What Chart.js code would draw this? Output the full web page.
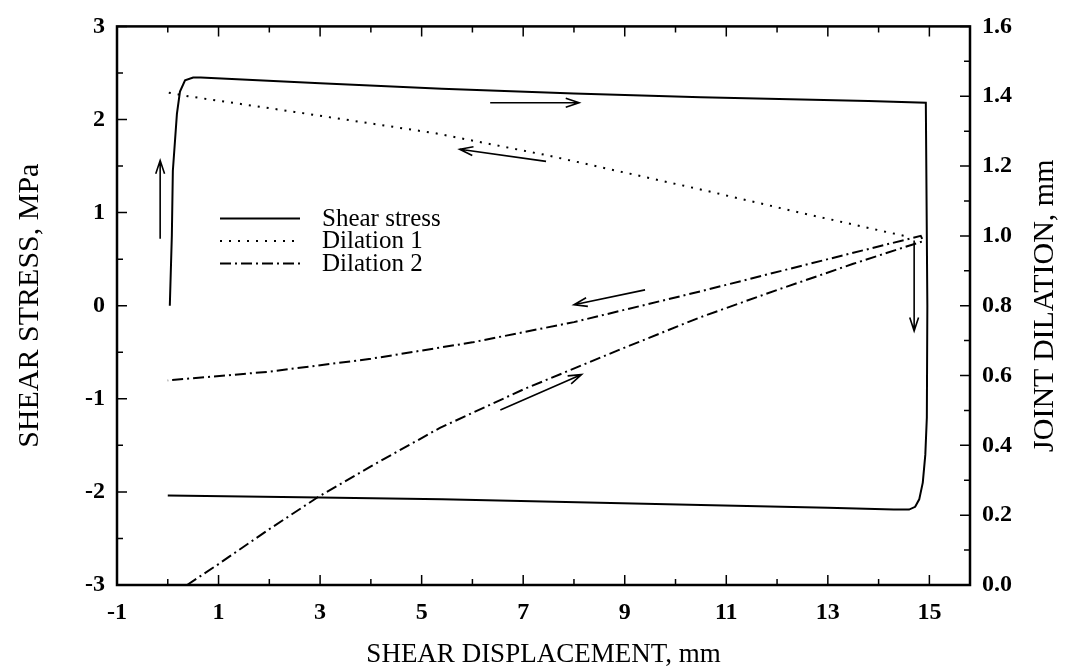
<!DOCTYPE html>
<html>
<head>
<meta charset="utf-8">
<script src="https://cdn.jsdelivr.net/npm/chart.js@4.4.1/dist/chart.umd.min.js"></script>
<style>
  html, body { margin: 0; padding: 0; background: #fff; }
  #wrap { width: 1069px; height: 671px; }
</style>
</head>
<body>
<div id="wrap"><canvas id="shearChart" width="1069" height="671"></canvas></div>
<script>
// Shear stress loop, left axis (MPa): goes up, right along the top, down, back left
var stressX = [0.04, 0.08, 0.10, 0.18, 0.24, 0.34, 0.50, 0.65, 3.0, 5.4, 8.0, 10.5, 13.8, 14.93, 14.96, 14.95, 14.92, 14.87, 14.80, 14.72, 14.60, 14.3, 13.0, 10.5, 5.4, 3.0, 0.0];
var stressY = [0.0, 0.75, 1.45, 2.06, 2.30, 2.42, 2.45, 2.45, 2.39, 2.33, 2.28, 2.24, 2.20, 2.18, 0.0, -1.2, -1.6, -1.9, -2.08, -2.16, -2.19, -2.19, -2.17, -2.14, -2.08, -2.06, -2.04];

// Dilation 1, right axis (mm)
var dil1X = [0.02, 0.4, 2.5, 5.27, 7.5, 10.49, 12.5, 14.5];
var dil1Y = [1.41, 1.40, 1.355, 1.294, 1.23, 1.133, 1.065, 1.0];

// Dilation 2, right axis (mm): lower branch out, upper branch back
var dil2X = [0.38, 1.0, 2.0, 2.96, 4.0, 5.36, 7.0, 9.0, 10.49, 12.0, 13.5, 14.88, 14.83, 12.5, 10.49, 8.0, 6.0, 4.0, 2.0, 0.0];
var dil2Y = [0.0, 0.06, 0.16, 0.252, 0.34, 0.45, 0.56, 0.68, 0.767, 0.845, 0.92, 0.985, 1.0, 0.915, 0.841, 0.753, 0.695, 0.648, 0.611, 0.586];

// ticks
var xTicks = [-1, 1, 3, 5, 7, 9, 11, 13, 15];
var xMinor = [0, 2, 4, 6, 8, 10, 12, 14];
var yTicks = [-3, -2, -1, 0, 1, 2, 3];
var yMinor = [-2.5, -1.5, -0.5, 0.5, 1.5, 2.5];
var y1Ticks = [0, 0.2, 0.4, 0.6, 0.8, 1.0, 1.2, 1.4, 1.6];
var y1Minor = [0.1, 0.3, 0.5, 0.7, 0.9, 1.1, 1.3, 1.5];

// direction arrows [x0, y0, x1, y1] on the left (stress) axis, head at x1,y1
var arrows = [
  [-0.15, 0.72, -0.15, 1.56],
  [6.35, 2.18, 8.1, 2.18],
  [7.45, 1.55, 5.75, 1.68],
  [9.4, 0.17, 8.0, 0.01],
  [6.55, -1.12, 8.15, -0.74],
  [14.7, 0.7, 14.7, -0.27]
];

function pts(xs, ys) {
    var out = [];
    for (var i = 0; i < xs.length; i++) out.push({ x: xs[i], y: ys[i] });
    return out;
}

var serif = "'Liberation Serif', 'Times New Roman', serif";
var tickFont = { family: serif, size: 24, weight: 'bold' };
var titleFont = { family: serif, size: 27 };
var sideTitleFont = { family: serif, size: 30 };

function setTicks(list) {
    return function(scale) {
        scale.ticks = list.map(function(v) { return { value: v }; });
    };
}

// inward tick marks, frame, legend, arrows, right-hand title
var decor = {
    id: 'decor',
    afterDraw: function(chart) {
        var ctx = chart.ctx, a = chart.chartArea;
        var xs = chart.scales.x, yl = chart.scales.y, yr = chart.scales.y1;
        ctx.save();
        ctx.strokeStyle = '#000';
        ctx.fillStyle = '#000';
        ctx.lineWidth = 1.5;
        ctx.beginPath();
        function xt(v, len) {
            var p = xs.getPixelForValue(v);
            ctx.moveTo(p, a.bottom); ctx.lineTo(p, a.bottom - len);
            ctx.moveTo(p, a.top); ctx.lineTo(p, a.top + len);
        }
        function lt(v, len) {
            var p = yl.getPixelForValue(v);
            ctx.moveTo(a.left, p); ctx.lineTo(a.left + len, p);
        }
        function rt(v, len) {
            var p = yr.getPixelForValue(v);
            ctx.moveTo(a.right, p); ctx.lineTo(a.right - len, p);
        }
        xTicks.forEach(function(v) { xt(v, 10); });
        xMinor.forEach(function(v) { xt(v, 6); });
        yTicks.forEach(function(v) { lt(v, 10); });
        yMinor.forEach(function(v) { lt(v, 6); });
        y1Ticks.forEach(function(v) { rt(v, 10); });
        y1Minor.forEach(function(v) { rt(v, 6); });
        ctx.stroke();

        ctx.lineWidth = 2.5;
        ctx.strokeRect(a.left, a.top, a.right - a.left, a.bottom - a.top);

        // arrows
        ctx.lineWidth = 1.6;
        arrows.forEach(function(ar) {
            var x0 = xs.getPixelForValue(ar[0]), y0 = yl.getPixelForValue(ar[1]);
            var x1 = xs.getPixelForValue(ar[2]), y1 = yl.getPixelForValue(ar[3]);
            var ang = Math.atan2(y1 - y0, x1 - x0), h = 14, s = 0.32;
            ctx.beginPath();
            ctx.moveTo(x0, y0); ctx.lineTo(x1, y1);
            ctx.moveTo(x1 - h * Math.cos(ang - s), y1 - h * Math.sin(ang - s));
            ctx.lineTo(x1, y1);
            ctx.lineTo(x1 - h * Math.cos(ang + s), y1 - h * Math.sin(ang + s));
            ctx.stroke();
        });

        // legend
        ctx.font = '25px ' + serif;
        ctx.textBaseline = 'middle';
        ctx.textAlign = 'left';
        chart.data.datasets.forEach(function(ds, i) {
            var y = a.top + 192 + i * 22.5;
            ctx.beginPath();
            ctx.lineWidth = ds.borderWidth;
            ctx.setLineDash(ds.borderDash || []);
            ctx.moveTo(a.left + 103, y); ctx.lineTo(a.left + 183, y);
            ctx.stroke();
            ctx.setLineDash([]);
            ctx.fillText(ds.label, a.left + 205, y + 1);
        });

        // right axis title, reading bottom to top
        ctx.translate(1045, (a.top + a.bottom) / 2);
        ctx.rotate(-Math.PI / 2);
        ctx.textAlign = 'center';
        ctx.font = '30px ' + serif;
        ctx.fillText('JOINT DILATION, mm', 0, 0);
        ctx.restore();
    }
};

var ctx = document.getElementById('shearChart').getContext('2d');
var shearChart = new Chart(ctx, {
    type: 'line',
    data: {
        datasets: [{
            label: 'Shear stress',
            data: pts(stressX, stressY),
            yAxisID: 'y',
            borderColor: '#000',
            borderWidth: 2,
            borderDash: []
        }, {
            label: 'Dilation 1',
            data: pts(dil1X, dil1Y),
            yAxisID: 'y1',
            borderColor: '#000',
            borderWidth: 2,
            borderDash: [2, 7]
        }, {
            label: 'Dilation 2',
            data: pts(dil2X, dil2Y),
            yAxisID: 'y1',
            borderColor: '#000',
            borderWidth: 2,
            borderDash: [11, 4, 2, 4]
        }]
    },
    options: {
        responsive: false,
        animation: false,
        devicePixelRatio: 1,
        elements: { point: { radius: 0 }, line: { tension: 0, fill: false } },
        layout: { padding: { top: 21, left: 0, right: 0, bottom: 0 } },
        plugins: { legend: { display: false }, tooltip: { enabled: false } },
        scales: {
            x: {
                type: 'linear',
                position: 'bottom',
                min: -1,
                max: 15.8,
                afterBuildTicks: setTicks(xTicks),
                afterFit: function(s) { s.height = 86; },
                grid: { display: false, drawTicks: false },
                border: { display: false },
                ticks: { color: '#000', font: tickFont, padding: 13, maxRotation: 0, autoSkip: false,
                         callback: function(v) { return String(v); } },
                title: { display: true, text: 'SHEAR DISPLACEMENT, mm', color: '#000', font: titleFont,
                         padding: { top: 0, bottom: 0 } }
            },
            y: {
                type: 'linear',
                position: 'left',
                min: -3,
                max: 3,
                afterBuildTicks: setTicks(yTicks),
                afterFit: function(s) { s.width = 117; },
                grid: { display: false, drawTicks: false },
                border: { display: false },
                ticks: { color: '#000', font: tickFont, padding: 12,
                         callback: function(v) { return String(v); } },
                title: { display: true, text: 'SHEAR STRESS, MPa', color: '#000', font: sideTitleFont,
                         padding: { top: 12, bottom: 0 } }
            },
            y1: {
                type: 'linear',
                position: 'right',
                min: 0,
                max: 1.6,
                afterBuildTicks: setTicks(y1Ticks),
                afterFit: function(s) { s.width = 99; },
                grid: { display: false, drawTicks: false },
                border: { display: false },
                ticks: { color: '#000', font: tickFont, padding: 12,
                         callback: function(v) { return v.toFixed(1); } }
            }
        }
    },
    plugins: [decor]
});
</script>
</body>
</html>
